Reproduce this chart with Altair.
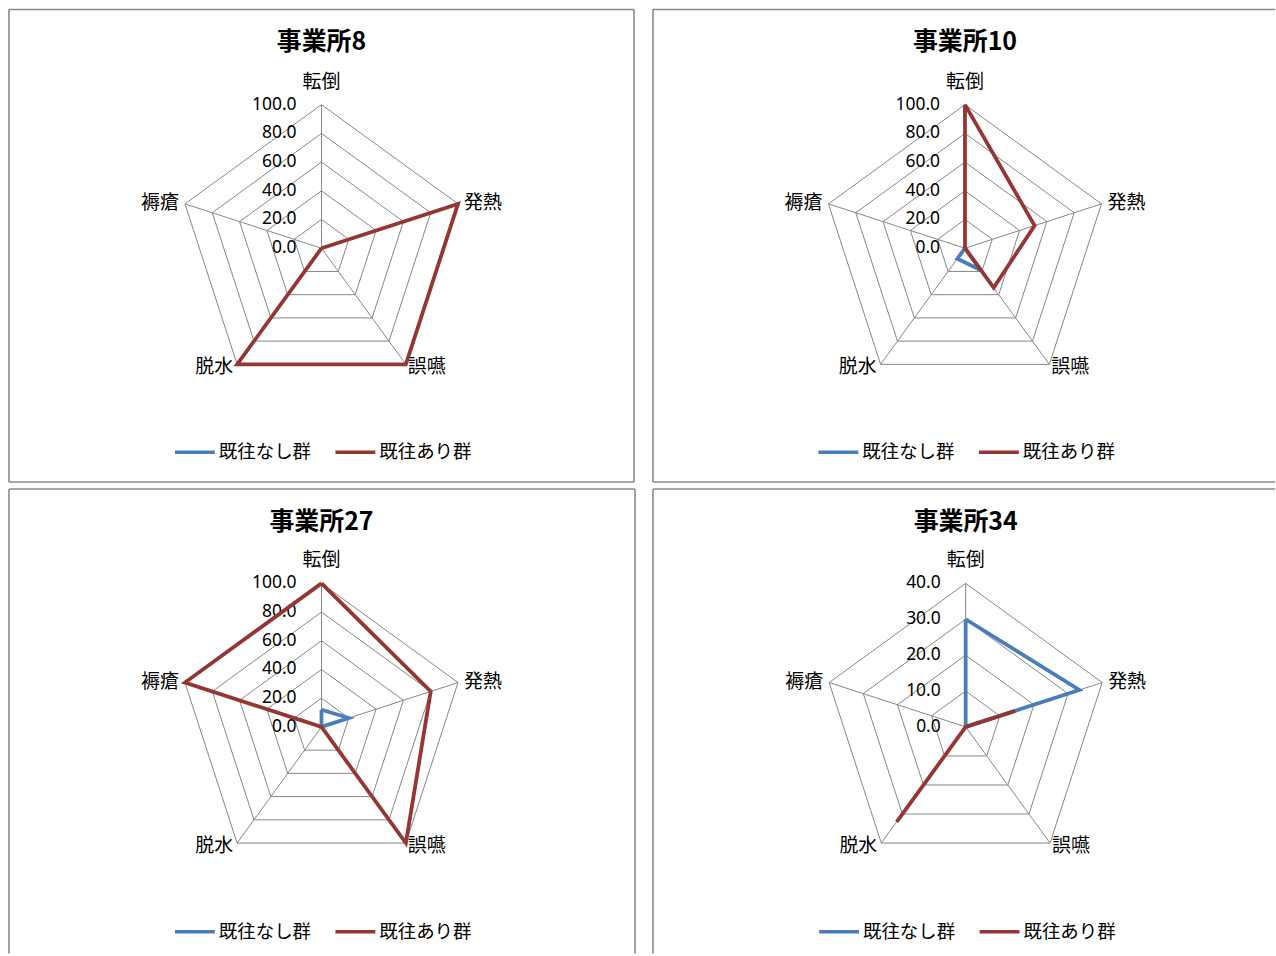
import altair as alt
import pandas as pd

# ---------------- data ----------------
PANELS = ["事業所8", "事業所10", "事業所27", "事業所34"]
CATEGORIES = ["転倒", "発熱", "誤嚥", "脱水", "褥瘡"]
SERIES = ["既往なし群", "既往あり群"]

P8_NONE = [0, 0, 0, 0, 0]
P8_WITH = [0, 100, 100, 100, 0]
P10_NONE = [0, 0, 19, 9, 0]
P10_WITH = [100, 51, 34, 0, 0]
P27_NONE = [12, 20, 0, 0, 0]
P27_WITH = [100, 80, 100, 0, 100]
P34_NONE = [30, 33.3, 0, 0, 0]
P34_WITH = [0, 14.5, 0, 32.7, 0]

PANEL_VALUES = [
    (P8_NONE, P8_WITH),
    (P10_NONE, P10_WITH),
    (P27_NONE, P27_WITH),
    (P34_NONE, P34_WITH),
]
AXIS_MAX = [100, 100, 100, 40]
TICKS_100 = [0, 20, 40, 60, 80, 100]
TICKS_40 = [0, 10, 20, 30, 40]
PANEL_TICKS = [TICKS_100, TICKS_100, TICKS_100, TICKS_40]

# ---------------- style ----------------
COLORS = ["#4A7EBB", "#963634"]
GRID = "#868686"
BORDER = "#8a8a8a"
RADIUS = 144          # pixel radius of the outer ring
CJK = "Noto Sans CJK JP"
NUM = "Noto Sans"


def make_panel(i, w, h, cx, cy, sides):
    maxv = AXIS_MAX[i]
    xs = alt.Scale(domain=[-cx, w - cx], nice=False, zero=False)
    ys = alt.Scale(domain=[-(h - cy), cy], nice=False, zero=False)
    X = lambda f: alt.X(f, type="quantitative", scale=xs, axis=None)
    Y = lambda f: alt.Y(f, type="quantitative", scale=ys, axis=None)

    rows = []
    for s, vals in zip(SERIES, PANEL_VALUES[i]):
        for k in range(6):
            rows.append({"series": s, "ord": k, "value": vals[k % 5]})
    series_df = pd.DataFrame(rows)

    ring_df = pd.DataFrame(
        [{"level": t, "ord": k} for t in PANEL_TICKS[i] if t > 0 for k in range(6)]
    )
    cat_df = pd.DataFrame({"cat": CATEGORIES, "idx": list(range(5))})
    tick_df = pd.DataFrame({"v": PANEL_TICKS[i]})
    name_df = pd.DataFrame({"name": [PANELS[i]]})

    layers = []

    rings = (
        alt.Chart(ring_df)
        .transform_calculate(ang="(datum.ord % 5) * 2 * PI / 5",
                             r=f"datum.level / {maxv} * {RADIUS}")
        .transform_calculate(x="datum.r * sin(datum.ang)", y="datum.r * cos(datum.ang)")
        .mark_line(color=GRID, strokeWidth=1)
        .encode(x=X("x"), y=Y("y"), detail="level:N", order="ord:Q")
    )
    layers.append(rings)

    spokes = (
        alt.Chart(cat_df)
        .transform_calculate(ang="datum.idx * 2 * PI / 5")
        .transform_calculate(xt=f"{RADIUS} * sin(datum.ang)", yt=f"{RADIUS} * cos(datum.ang)",
                             x0="0", y0="0")
        .mark_rule(color=GRID, strokeWidth=1)
        .encode(x=X("x0"), y=Y("y0"), x2="xt:Q", y2="yt:Q")
    )
    layers.append(spokes)

    ticks = (
        alt.Chart(tick_df)
        .transform_calculate(y=f"datum.v / {maxv} * {RADIUS}", x0="0")
        .mark_text(align="right", baseline="middle", dx=-25, font=NUM, fontSize=17.5, color="black")
        .encode(x=X("x0"), y=Y("y"), text=alt.Text("v:Q", format=".1f"))
    )
    layers.append(ticks)

    cat_base = (
        alt.Chart(cat_df)
        .transform_calculate(ang="datum.idx * 2 * PI / 5")
        .transform_calculate(xt=f"{RADIUS} * sin(datum.ang)", yt=f"{RADIUS} * cos(datum.ang)")
    )
    label_styles = [
        (0, dict(align="center", dx=0, dy=-23)),
        (1, dict(align="left", dx=6, dy=-1)),
        (2, dict(align="left", dx=2, dy=3)),
        (3, dict(align="right", dx=-4, dy=3)),
        (4, dict(align="right", dx=-6, dy=-1)),
    ]
    for idx, st in label_styles:
        layers.append(
            cat_base.transform_filter(f"datum.idx == {idx}")
            .mark_text(baseline="middle", font=CJK, fontSize=19, color="black", **st)
            .encode(x=X("xt"), y=Y("yt"), text="cat:N")
        )

    color = alt.Color(
        "series:N",
        scale=alt.Scale(domain=SERIES, range=COLORS),
        legend=alt.Legend(
            orient="none", legendX=cx - 149, legendY=422, direction="horizontal",
            title=None, symbolType="stroke", symbolSize=1600, symbolStrokeWidth=3.5,
            labelFont=CJK, labelFontSize=18.5, labelOffset=2, columnPadding=17,
            labelColor="black", padding=0,
        ),
    )
    for s in SERIES:
        layers.append(
            alt.Chart(series_df)
            .transform_filter(alt.datum.series == s)
            .transform_calculate(ang="(datum.ord % 5) * 2 * PI / 5",
                                 r=f"datum.value / {maxv} * {RADIUS}")
            .transform_calculate(x="datum.r * sin(datum.ang)", y="datum.r * cos(datum.ang)")
            .mark_line(strokeWidth=3.8, strokeJoin="miter")
            .encode(x=X("x"), y=Y("y"), color=color, order="ord:Q")
        )

    layers.append(
        alt.Chart(name_df)
        .mark_text(font=CJK, fontSize=25, fontWeight="bold", color="black", baseline="middle")
        .encode(x=alt.value(cx), y=alt.value(33), text="name:N")
    )

    border = alt.Chart(name_df).mark_rule(color=BORDER, strokeWidth=1.6)
    if "top" in sides:
        layers.append(border.encode(x=alt.value(0), x2=alt.value(w), y=alt.value(0)))
    if "left" in sides:
        layers.append(border.encode(x=alt.value(0), y=alt.value(0), y2=alt.value(h)))
    if "right" in sides:
        layers.append(border.encode(x=alt.value(w), y=alt.value(0), y2=alt.value(h)))
    if "bottom" in sides:
        layers.append(border.encode(x=alt.value(0), x2=alt.value(w), y=alt.value(h)))

    return alt.layer(*layers).properties(width=w, height=h)


p1 = make_panel(0, 627, 474, 313.5, 239.5, ["top", "left", "right", "bottom"])
p2 = make_panel(1, 624, 474, 313.0, 239.5, ["top", "left", "bottom"])
p3 = make_panel(2, 628, 466, 313.5, 238.7, ["top", "left", "right"])
p4 = make_panel(3, 624, 466, 313.7, 238.7, ["top", "left"])

chart = (
    alt.concat(p1, p2, p3, p4, columns=2, spacing={"row": 5, "column": 16})
    .resolve_scale(color="independent", x="independent", y="independent")
    .resolve_legend(color="independent")
    .configure_view(stroke=None)
    .properties(padding={"left": 8, "top": 7, "right": 0, "bottom": 0}, background="white")
)

chart.save("out.html", embed_options={"renderer": "svg", "actions": False})
